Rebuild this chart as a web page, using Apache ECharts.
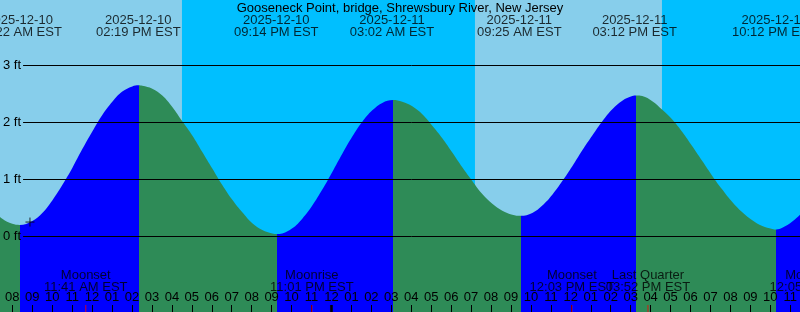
<!DOCTYPE html>
<html><head><meta charset="utf-8">
<script src="https://cdn.jsdelivr.net/npm/echarts@6/dist/echarts.min.js"></script>
<style>html,body{margin:0;padding:0;background:#fff}#c{width:800px;height:312px}</style>
</head><body><div id="c"></div>
<script>
// ---------------- data ----------------
const chartTitle = 'Gooseneck Point, bridge, Shrewsbury River, New Jersey';
const tzName = 'EST';
// tide heights, hours counted from 2025-12-10 00:00
const tideHours = [7, 7.5, 8, 9, 9.5, 10, 10.5, 11, 11.5, 12, 12.5, 13, 13.5, 14, 14.5, 15, 15.5, 16, 16.5, 17, 17.5, 18, 18.5, 19, 19.5, 20, 20.5, 21, 21.5, 22, 22.5, 23, 23.5, 24, 24.5, 25, 25.5, 26, 26.5, 27.5, 28, 28.5, 29, 29.5, 30, 30.5, 31, 31.5, 32, 32.5, 33, 34, 34.5, 35, 35.5, 36, 36.5, 37, 37.5, 38, 38.5, 39, 39.5, 40, 40.5, 41, 41.5, 42, 42.5, 43, 43.5, 44, 44.5, 45, 45.5, 46, 46.5, 47, 47.5, 48];
const tideFeet  = [0.46, 0.31, 0.22, 0.27, 0.41, 0.63, 0.90, 1.20, 1.53, 1.84, 2.13, 2.36, 2.54, 2.63, 2.64, 2.59, 2.47, 2.27, 2.02, 1.77, 1.48, 1.19, 0.90, 0.64, 0.42, 0.23, 0.11, 0.05, 0.05, 0.14, 0.31, 0.54, 0.82, 1.13, 1.45, 1.75, 2.01, 2.21, 2.34, 2.36, 2.28, 2.14, 1.94, 1.72, 1.47, 1.21, 0.97, 0.74, 0.57, 0.45, 0.38, 0.41, 0.54, 0.73, 0.97, 1.23, 1.51, 1.77, 2.02, 2.23, 2.38, 2.46, 2.46, 2.37, 2.22, 2.05, 1.83, 1.58, 1.32, 1.06, 0.82, 0.60, 0.42, 0.28, 0.18, 0.13, 0.15, 0.26, 0.42, 0.62];
const extremeStamps = ['2025-12-10 08:22', '2025-12-10 14:19', '2025-12-10 21:14', '2025-12-11 03:02', '2025-12-11 09:25', '2025-12-11 15:12', '2025-12-11 22:12'];
const extremeFeet   = [0.20, 2.65, 0.04, 2.39, 0.36, 2.47, 0.12];
const moonEvents = ['Moonset', 'Moonrise', 'Moonset', 'Last Quarter', 'Moonrise'];
const moonStamps = ['2025-12-10 11:41', '2025-12-10 23:01', '2025-12-11 12:03', '2025-12-11 15:52', '2025-12-12 00:05'];
const daylightStarts = ['2025-12-10 07:07', '2025-12-11 07:08'];
const daylightEnds   = ['2025-12-10 16:29', '2025-12-11 16:29'];
const nowMark = { stamp: '2025-12-10 08:53', feet: 0.25 };
const yTicks = [0, 1, 2, 3];
const viewStartHour = 7.385;
const viewHours = 40;

// ---------------- helpers ----------------
const FONT = 'Liberation Sans';
function hoursOf(stamp) {
  const [d, t] = stamp.split(' ');
  const [Y, M, D] = d.split('-').map(Number);
  const [h, m] = t.split(':').map(Number);
  return (Date.UTC(Y, M - 1, D, h, m) - Date.UTC(2025, 11, 10)) / 3600000;
}
const pad = n => String(n).padStart(2, '0');
function clock(stamp) {
  const [h, m] = stamp.split(' ')[1].split(':').map(Number);
  return pad(h % 12 || 12) + ':' + pad(m) + ' ' + (h < 12 ? 'AM' : 'PM') + ' ' + tzName;
}
const W = 800, H = 312;
const zeroPx = 236.3, pxPerFoot = 57;
const pxPerHour = W / viewHours;
const viewEndHour = viewStartHour + viewHours;
const firstHour = Math.ceil(viewStartHour), lastHour = Math.floor(viewEndHour);

const extremeHours = extremeStamps.map(hoursOf);
const curve = tideHours.map((h, i) => [h, tideFeet[i]])
  .concat(extremeHours.map((h, i) => [h, extremeFeet[i]]))
  .sort((a, b) => a[0] - b[0]);

const RISE = '#0000FF', FALL = '#2E8B57';
const isHigh = extremeFeet.map((f, i) => f > extremeFeet[i === 0 ? 1 : i - 1]);
const edges = [-1000].concat(extremeHours, [1000]);
const pieces = [];
for (let i = 0; i < edges.length - 1; i++) {
  const rising = i < extremeHours.length ? isHigh[i] : !isHigh[extremeHours.length - 1];
  pieces.push({ min: edges[i], max: edges[i + 1], color: rising ? RISE : FALL });
}
const dayBands = daylightStarts.map((s, i) => [hoursOf(s), hoursOf(daylightEnds[i])]);
const midnights = [];
for (let d = Math.ceil(viewStartHour / 24) * 24; d <= viewEndHour; d += 24) midnights.push([d, 0]);

const txt = { color: '#000', fontFamily: FONT, fontSize: 13 };

const chart = echarts.init(document.getElementById('c'), null, { renderer: 'canvas' });
chart.setOption({
  backgroundColor: '#00BFFF',
  animation: false,
  title: { text: chartTitle, left: 'center', top: 1.5, padding: 0,
    textStyle: Object.assign({ fontWeight: 'normal', lineHeight: 13 }, txt) },
  grid: [
    { left: 0, right: 0, top: 0, bottom: 0 },
    { left: 22, right: 0, top: zeroPx - yTicks[yTicks.length - 1] * pxPerFoot, bottom: H - zeroPx },
    { left: (firstHour - viewStartHour) * pxPerHour, right: (viewEndHour - lastHour) * pxPerHour, top: 0, bottom: 0 }
  ],
  xAxis: [
    { gridIndex: 0, type: 'value', min: viewStartHour, max: viewEndHour, show: false },
    { gridIndex: 1, type: 'value', min: 0, max: 1, show: false },
    { gridIndex: 2, type: 'value', min: firstHour, max: lastHour, interval: 1, position: 'bottom', z: 5,
      axisLine: { show: false },
      axisTick: { show: true, inside: true, length: 7, lineStyle: { color: '#000', width: 1 } },
      splitLine: { show: false },
      axisLabel: Object.assign({ inside: true, margin: 8, lineHeight: 13, interval: 0,
        showMinLabel: true, showMaxLabel: true,
        formatter: v => pad((v % 12) || 12) }, txt) }
  ],
  yAxis: [
    { gridIndex: 0, type: 'value', min: -(H - zeroPx) / pxPerFoot, max: zeroPx / pxPerFoot, show: false },
    { gridIndex: 1, type: 'value', min: yTicks[0], max: yTicks[yTicks.length - 1], interval: 1, z: 5,
      axisLine: { show: false }, axisTick: { show: false },
      splitLine: { show: true, lineStyle: { color: '#000', width: 1 } },
      axisLabel: Object.assign({ margin: 2, formatter: v => yTicks.includes(v) ? v + ' ft' : '' }, txt) },
    { gridIndex: 2, type: 'value', min: 0, max: 1, show: false }
  ],
  visualMap: { type: 'piecewise', show: false, seriesIndex: 1, dimension: 0, pieces: pieces },
  series: [
    { type: 'custom', xAxisIndex: 0, yAxisIndex: 0, z: 1, silent: true, clip: false,
      encode: { x: [0, 1] }, data: dayBands,
      renderItem: (params, api) => {
        const x0 = api.coord([api.value(0), 0])[0];
        const x1 = api.coord([api.value(1), 0])[0];
        const cs = params.coordSys;
        return { type: 'rect', shape: { x: x0, y: cs.y, width: x1 - x0, height: cs.height }, style: { fill: '#87CEEB' } };
      } },
    { type: 'line', xAxisIndex: 0, yAxisIndex: 0, z: 2, silent: true, data: curve, smooth: 0.4,
      showSymbol: false, lineStyle: { width: 0 }, areaStyle: { opacity: 1, origin: 'start' } },
    { type: 'scatter', xAxisIndex: 0, yAxisIndex: 0, z: 6, silent: true,
      data: [[hoursOf(nowMark.stamp), nowMark.feet]],
      symbol: 'path://M0,4.5H9M4.5,0V9', symbolSize: 9,
      itemStyle: { color: 'transparent', borderColor: '#000', borderWidth: 1 } },
    { type: 'scatter', xAxisIndex: 2, yAxisIndex: 2, z: 6, silent: true, clip: false,
      data: extremeStamps.map(s => ({ value: [hoursOf(s), 1], name: s.split(' ')[0] + '\n' + clock(s) })),
      symbolSize: 1, itemStyle: { color: 'transparent' },
      label: Object.assign({ show: true, position: 'bottom', distance: 14, lineHeight: 12, align: 'center',
        formatter: p => p.name }, txt) },
    { type: 'scatter', xAxisIndex: 2, yAxisIndex: 2, z: 6, silent: true, clip: false,
      data: moonStamps.map((s, i) => ({ value: [hoursOf(s), 0], name: moonEvents[i] + '\n' + clock(s) })),
      symbolSize: 1, itemStyle: { color: 'transparent' },
      label: Object.assign({ show: true, position: 'top', distance: 18, lineHeight: 12, align: 'center',
        formatter: p => p.name }, txt) },
    { type: 'scatter', xAxisIndex: 2, yAxisIndex: 2, z: 7, silent: true, clip: false,
      data: moonStamps.map(s => [hoursOf(s), 0]),
      symbol: 'rect', symbolSize: [1, 7], symbolOffset: [0, -3.5], itemStyle: { color: '#FF0000' } },
    { type: 'scatter', xAxisIndex: 2, yAxisIndex: 2, z: 7, silent: true, clip: false,
      data: midnights,
      symbol: 'rect', symbolSize: [3, 7], symbolOffset: [0, -3.5], itemStyle: { color: '#000' } }
  ]
});
</script></body></html>
